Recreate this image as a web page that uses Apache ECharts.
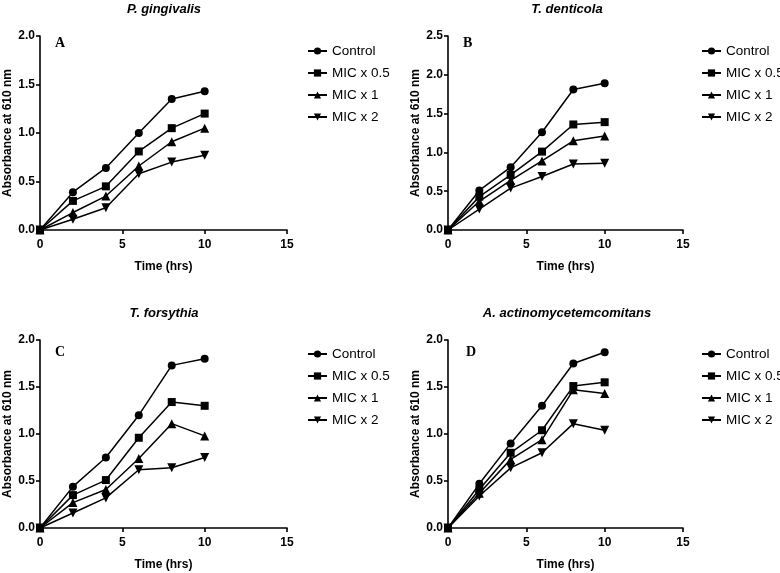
<!DOCTYPE html>
<html>
<head>
<meta charset="utf-8">
<script src="https://cdn.jsdelivr.net/npm/echarts@6/dist/echarts.min.js"></script>
<style>
  html, body { margin: 0; padding: 0; background: #fff; }
  #main { width: 780px; height: 573px; }
</style>
</head>
<body>
<div id="main"></div>
<script>
// time points (hrs)
var times = [0, 2, 4, 6, 8, 10];
var seriesNames = ['Control', 'MIC x 0.5', 'MIC x 1', 'MIC x 2'];
var xTicks = [0, 5, 10, 15];

// absorbance at 610 nm, one row per series (Control, x0.5, x1, x2)
var gingivalis = [
  [0, 0.39, 0.64, 1.00, 1.35, 1.43],
  [0, 0.30, 0.45, 0.81, 1.05, 1.20],
  [0, 0.18, 0.35, 0.66, 0.91, 1.05],
  [0, 0.11, 0.23, 0.58, 0.70, 0.77]
];
var denticola = [
  [0, 0.51, 0.81, 1.26, 1.81, 1.89],
  [0, 0.43, 0.71, 1.01, 1.36, 1.39],
  [0, 0.37, 0.64, 0.89, 1.15, 1.21],
  [0, 0.27, 0.54, 0.69, 0.85, 0.86]
];
var forsythia = [
  [0, 0.44, 0.75, 1.20, 1.73, 1.80],
  [0, 0.35, 0.51, 0.96, 1.34, 1.30],
  [0, 0.27, 0.41, 0.74, 1.11, 0.98],
  [0, 0.16, 0.32, 0.62, 0.64, 0.75]
];
var actino = [
  [0, 0.47, 0.90, 1.30, 1.75, 1.87],
  [0, 0.41, 0.80, 1.04, 1.51, 1.55],
  [0, 0.37, 0.73, 0.94, 1.47, 1.43],
  [0, 0.34, 0.64, 0.80, 1.11, 1.04]
];

var panels = [
  { title: 'P. gingivalis', letter: 'A', data: gingivalis, yMax: 2.0,
    grid: { left: 40, top: 36, width: 247, height: 194 }, legend: { left: 302, top: 39 },
    titlePos: [164, 9], letterPos: [55, 43] },
  { title: 'T. denticola', letter: 'B', data: denticola, yMax: 2.5,
    grid: { left: 448, top: 36, width: 235, height: 194 }, legend: { left: 696, top: 39 },
    titlePos: [567, 9], letterPos: [463, 43] },
  { title: 'T. forsythia', letter: 'C', data: forsythia, yMax: 2.0,
    grid: { left: 40, top: 340, width: 247, height: 188 }, legend: { left: 302, top: 342 },
    titlePos: [164, 313], letterPos: [55, 352] },
  { title: 'A. actinomycetemcomitans', letter: 'D', data: actino, yMax: 2.0,
    grid: { left: 448, top: 340, width: 235, height: 188 }, legend: { left: 696, top: 342 },
    titlePos: [567, 313], letterPos: [466, 352] }
];

var symbols = ['circle', 'rect', 'triangle', 'triangle'];
var symbolRot = [0, 0, 0, 180];
var symbolSizes = [8, 8, 9, 9];

var axisFont = { fontFamily: 'Liberation Sans, Arial, sans-serif', fontWeight: 'bold', fontSize: 12, color: '#000' };

var option = {
  backgroundColor: '#fff',
  animation: false,
  grid: [], xAxis: [], yAxis: [], legend: [], series: [], graphic: []
};

panels.forEach(function (p, i) {
  option.grid.push(p.grid);
  option.xAxis.push({
    gridIndex: i, type: 'value', min: 0, max: 15, interval: 5,
    name: 'Time (hrs)', nameLocation: 'middle', nameGap: 31,
    nameTextStyle: axisFont,
    axisLine: { lineStyle: { color: '#000', width: 1.6 } },
    axisTick: { show: true, length: 4, lineStyle: { color: '#000', width: 1.6 } },
    axisLabel: Object.assign({ margin: 9 }, axisFont),
    splitLine: { show: false }
  });
  option.yAxis.push({
    gridIndex: i, type: 'value', min: 0, max: p.yMax, interval: 0.5,
    name: 'Absorbance at 610 nm', nameLocation: 'middle', nameGap: 26,
    nameTextStyle: axisFont,
    axisLine: { show: true, lineStyle: { color: '#000', width: 1.6 } },
    axisTick: { show: true, length: 4, lineStyle: { color: '#000', width: 1.6 } },
    axisLabel: Object.assign({ margin: 5, formatter: function (v) { return v.toFixed(1); } }, axisFont),
    splitLine: { show: false }
  });
  option.legend.push({
    left: p.legend.left, top: p.legend.top, orient: 'vertical',
    itemWidth: 19, itemHeight: 9, itemGap: 8,
    data: seriesNames,
    textStyle: { fontFamily: 'Liberation Sans, Arial, sans-serif', fontSize: 13.5, color: '#000' },
    selectedMode: false
  });
  p.data.forEach(function (vals, s) {
    option.series.push({
      name: seriesNames[s], type: 'line',
      xAxisIndex: i, yAxisIndex: i,
      data: times.map(function (t, k) { return [t, vals[k]]; }),
      symbol: symbols[s], symbolRotate: symbolRot[s], symbolSize: symbolSizes[s],
      showAllSymbol: true,
      lineStyle: { color: '#000', width: 1.5 },
      itemStyle: { color: '#000' },
      emphasis: { disabled: true }
    });
  });
  option.graphic.push({
    type: 'text', x: p.titlePos[0], y: p.titlePos[1],
    style: { text: p.title, fill: '#000', align: 'center', verticalAlign: 'middle',
      font: 'italic bold 13px "Liberation Sans", Arial, sans-serif' }
  });
  option.graphic.push({
    type: 'text', x: p.letterPos[0], y: p.letterPos[1],
    style: { text: p.letter, fill: '#000', align: 'left', verticalAlign: 'middle',
      font: 'bold 14px "Liberation Serif", "Times New Roman", serif' }
  });
});

var chart = echarts.init(document.getElementById('main'));
chart.setOption(option);
</script>
</body>
</html>
